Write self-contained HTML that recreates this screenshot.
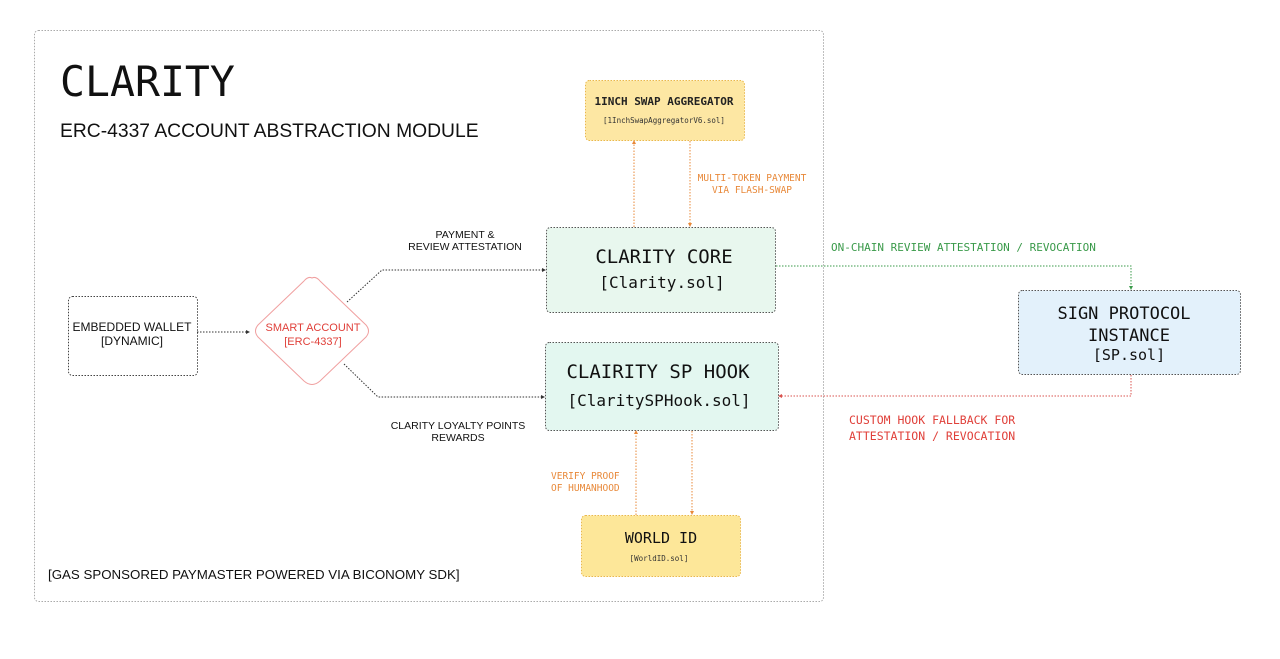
<!DOCTYPE html>
<html><head><meta charset="utf-8"><style>
html,body{margin:0;padding:0;background:#fff;}
svg{display:block;}
.m{font-family:"DejaVu Sans Mono","Liberation Mono",monospace;}
.s{font-family:"Liberation Sans",Arial,sans-serif;}
</style></head><body>
<svg width="1280" height="659" viewBox="0 0 1280 659" xmlns="http://www.w3.org/2000/svg">
<defs>
<marker id="ab" markerWidth="4" markerHeight="4" refX="3" refY="2" orient="auto"><path d="M0,0 L4,2 L0,4z" fill="#333"/></marker>
<marker id="ao" markerWidth="4" markerHeight="4" refX="3" refY="2" orient="auto"><path d="M0,0 L4,2 L0,4z" fill="#e8893a"/></marker>
<marker id="ag" markerWidth="4" markerHeight="4" refX="3" refY="2" orient="auto"><path d="M0,0 L4,2 L0,4z" fill="#3a9a4a"/></marker>
<marker id="ar" markerWidth="4" markerHeight="4" refX="3" refY="2" orient="auto"><path d="M0,0 L4,2 L0,4z" fill="#d9534f"/></marker>
</defs>
<rect x="34.5" y="30.5" width="789" height="571" rx="4" fill="none" stroke="#aaa" stroke-dasharray="1.5,1.5"/>
<text x="60" y="96" class="m" font-size="41.5" fill="#111">CLARITY</text>
<text x="60" y="137" class="s" font-size="19.3" fill="#111">ERC-4337 ACCOUNT ABSTRACTION MODULE</text>
<text x="48" y="579" class="s" font-size="13.3" fill="#111">[GAS SPONSORED PAYMASTER POWERED VIA BICONOMY SDK]</text>

<rect x="585.5" y="80.5" width="159" height="60" rx="4" fill="#fde7a3" stroke="#e9b84c" stroke-dasharray="1.5,1.5"/>
<text x="664" y="105" class="m" font-size="11" font-weight="bold" fill="#222" text-anchor="middle">1INCH SWAP AGGREGATOR</text>
<text x="664" y="123" class="m" font-size="7.5" fill="#333" text-anchor="middle">[1InchSwapAggregatorV6.sol]</text>

<rect x="546.5" y="227.5" width="229" height="85" rx="4" fill="#e8f7ee" stroke="#555" stroke-dasharray="1.5,1.5"/>
<text x="664" y="263" class="m" font-size="19" fill="#111" text-anchor="middle">CLARITY CORE</text>
<text x="662" y="288" class="m" font-size="16" fill="#111" text-anchor="middle">[Clarity.sol]</text>

<rect x="545.5" y="342.5" width="233" height="88" rx="4" fill="#e3f7f0" stroke="#555" stroke-dasharray="1.5,1.5"/>
<text x="658" y="378" class="m" font-size="19" fill="#111" text-anchor="middle">CLAIRITY SP HOOK</text>
<text x="659" y="406" class="m" font-size="16" fill="#111" text-anchor="middle">[ClaritySPHook.sol]</text>

<rect x="581.5" y="515.5" width="159" height="61" rx="4" fill="#fde799" stroke="#e9b84c" stroke-dasharray="1.5,1.5"/>
<text x="661" y="543" class="m" font-size="15" fill="#111" text-anchor="middle">WORLD ID</text>
<text x="659" y="561" class="m" font-size="7.5" fill="#333" text-anchor="middle">[WorldID.sol]</text>

<rect x="1018.5" y="290.5" width="222" height="84" rx="4" fill="#e3f1fb" stroke="#555" stroke-dasharray="1.5,1.5"/>
<text x="1124" y="319" class="m" font-size="17" fill="#111" text-anchor="middle">SIGN PROTOCOL</text>
<text x="1129" y="341" class="m" font-size="17" fill="#111" text-anchor="middle">INSTANCE</text>
<text x="1129" y="360" class="m" font-size="15" fill="#111" text-anchor="middle">[SP.sol]</text>

<rect x="68.5" y="296.5" width="129" height="79" rx="4" fill="#fff" stroke="#444" stroke-dasharray="1.5,1.5"/>
<text x="132" y="331" class="s" font-size="12" fill="#111" text-anchor="middle">EMBEDDED WALLET</text>
<text x="132" y="345" class="s" font-size="12" fill="#111" text-anchor="middle">[DYNAMIC]</text>

<path d="M312,278 Q316,276 320,281 L366,325 Q371,331 366,337 L320,381 Q312,388 304,381 L258,337 Q253,331 258,325 L304,281 Q308,276 312,278z" fill="#fff" stroke="#f0a0a0" stroke-width="1"/>
<text x="313" y="331" class="s" font-size="11" fill="#e0403a" text-anchor="middle">SMART ACCOUNT</text>
<text x="313" y="345" class="s" font-size="11" fill="#e0403a" text-anchor="middle">[ERC-4337]</text>

<g fill="none" stroke-dasharray="1.5,1.5" stroke-width="1">
<path d="M197,332 H249" stroke="#333" marker-end="url(#ab)"/>
<path d="M347,302 L382,270 H545" stroke="#333" marker-end="url(#ab)"/>
<path d="M344,364 L378,397 H544" stroke="#333" marker-end="url(#ab)"/>
<path d="M634,227 V141" stroke="#e8893a" marker-end="url(#ao)"/>
<path d="M690,141 V226" stroke="#e8893a" marker-end="url(#ao)"/>
<path d="M636,515 V431" stroke="#e8893a" marker-end="url(#ao)"/>
<path d="M692,431 V514" stroke="#e8893a" marker-end="url(#ao)"/>
<path d="M776,266 H1131 V289" stroke="#3a9a4a" marker-end="url(#ag)"/>
<path d="M1131,375 V396 H779" stroke="#d9534f" marker-end="url(#ar)"/>
</g>

<text x="465" y="238" class="s" font-size="10.5" fill="#111" text-anchor="middle">PAYMENT &amp;</text>
<text x="465" y="250" class="s" font-size="10.5" fill="#111" text-anchor="middle">REVIEW ATTESTATION</text>
<text x="458" y="429" class="s" font-size="10.5" fill="#111" text-anchor="middle">CLARITY LOYALTY POINTS</text>
<text x="458" y="441" class="s" font-size="10.5" fill="#111" text-anchor="middle">REWARDS</text>
<text x="752" y="181" class="m" font-size="9.5" fill="#e8893a" text-anchor="middle">MULTI-TOKEN PAYMENT</text>
<text x="752" y="193" class="m" font-size="9.5" fill="#e8893a" text-anchor="middle">VIA FLASH-SWAP</text>
<text x="551" y="479" class="m" font-size="9.5" fill="#e8893a">VERIFY PROOF</text>
<text x="551" y="491" class="m" font-size="9.5" fill="#e8893a">OF HUMANHOOD</text>
<text x="831" y="251" class="m" font-size="11" fill="#3a9a4a">ON-CHAIN REVIEW ATTESTATION / REVOCATION</text>
<text x="849" y="424" class="m" font-size="11.5" fill="#e0403a">CUSTOM HOOK FALLBACK FOR</text>
<text x="849" y="440" class="m" font-size="11.5" fill="#e0403a">ATTESTATION / REVOCATION</text>
</svg>
</body></html>
